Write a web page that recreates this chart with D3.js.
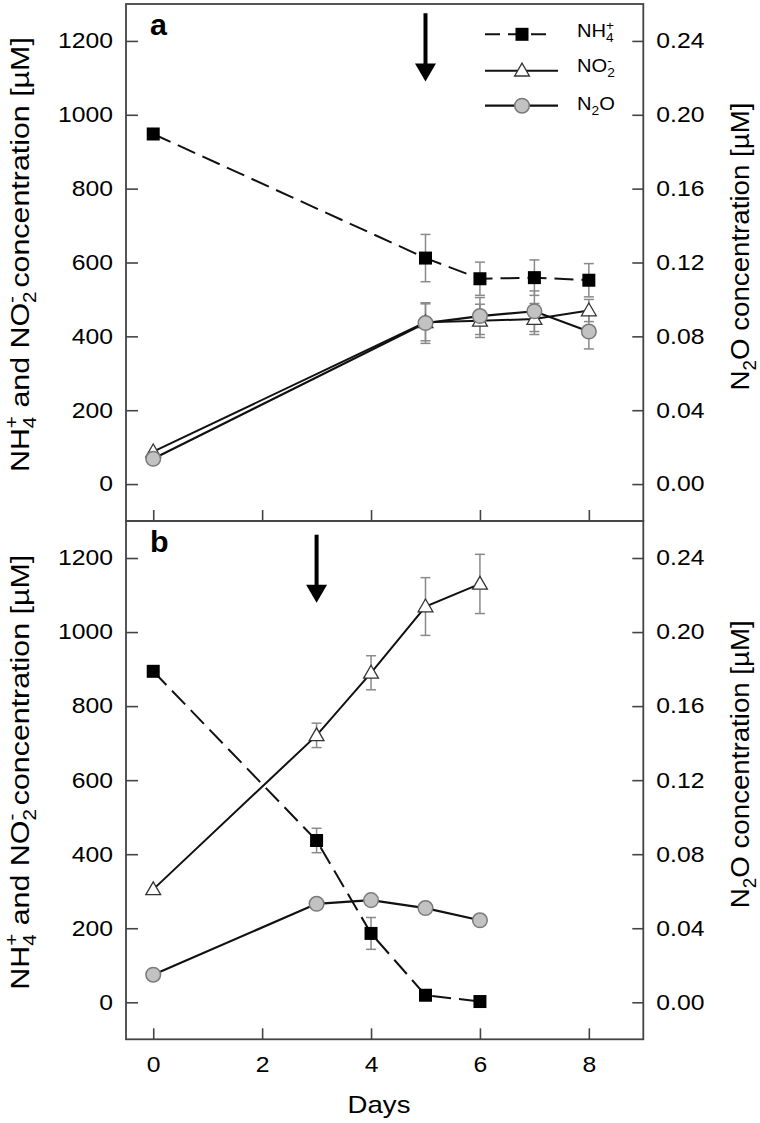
<!DOCTYPE html>
<html><head><meta charset="utf-8">
<script src="https://cdn.jsdelivr.net/npm/d3@7"></script>
<style>body{margin:0;background:#fff}svg{display:block}text{font-family:"Liberation Sans",Arial,sans-serif;fill:#000}</style>
</head><body>
<svg id="c" width="760" height="1123"></svg>
<script>
// ---------- data ----------
const daysA = [0, 5, 6, 7, 8];
const nh4A = [948, 612, 556, 559, 552];
const nh4AErr = [0, 64, 45, 48, 45];
const no2A = [88, 438, 442, 447, 470];
const no2AErr = [0, 50, 45, 42, 30];
const n2oA = [0.0137, 0.0872, 0.0910, 0.0936, 0.0826];
const n2oAErr = [0, 0.011, 0.010, 0.011, 0.0094];

const daysB = [0, 3, 4, 5, 6];
const nh4B = [894, 437, 186, 19, 2];
const nh4BErr = [0, 33, 43, 0, 0];
const no2B = [305, 721, 890, 1069, 1130];
const no2BErr = [0, 33, 46, 78, 80];
const n2oB = [0.0149, 0.0532, 0.0552, 0.0509, 0.0443];
const n2oBErr = [0, 0, 0, 0, 0];

const xTicks = [0, 2, 4, 6, 8];
const leftTicks = [0, 200, 400, 600, 800, 1000, 1200];
const rightTicks = [0, 0.04, 0.08, 0.12, 0.16, 0.20, 0.24];
const panelLabels = ["a", "b"];
const arrowDays = [5, 3];
const arrowTop = [1275, 1263];
const arrowBottom = [1090, 1079];
const legendNames = ["NH4+", "NO2-", "N2O"];

// ---------- layout ----------
const svg = d3.select("#c");
const L = 126, R = 643.3;
const panels = [{top: 4, bottom: 521}, {top: 521, bottom: 1039.3}];
const S = 1.15; // horizontal glyph stretch
const x = d3.scaleLinear().domain([-0.5, 9]).range([L, R]);

function rich(sel, parts, fs) {
  let cur = 0;
  parts.forEach(p => {
    const ts = sel.append("tspan").text(p.t);
    let target = 0, size = fs;
    if (p.k === "sub") { target = 0.28 * fs; size = 0.68 * fs; }
    if (p.k === "sup") { target = -0.42 * fs; size = 0.68 * fs; }
    ts.attr("font-size", size).attr("dy", target - cur);
    if (p.stack) ts.attr("dx", -0.556 * 0.68 * fs);
    cur = target;
  });
}
const partsNH4 = [{t: "NH"}, {t: "4", k: "sub"}, {t: "+", k: "sup", stack: true}];
const partsNO2 = [{t: "NO"}, {t: "2", k: "sub"}, {t: "-", k: "sup", stack: true}];
const partsN2O = [{t: "N"}, {t: "2", k: "sub"}, {t: "O"}];

function stretched(parent, px, py, s) {
  return parent.append("g").attr("transform", `translate(${px},${py}) scale(${s},1)`).append("text");
}

const datasets = [
  {days: daysA, nh4: nh4A, nh4E: nh4AErr, no2: no2A, no2E: no2AErr, n2o: n2oA, n2oE: n2oAErr},
  {days: daysB, nh4: nh4B, nh4E: nh4BErr, no2: no2B, no2E: no2BErr, n2o: n2oB, n2oE: n2oBErr}
];

panels.forEach((p, i) => {
  const y = d3.scaleLinear().domain([-100, 1300]).range([p.bottom, p.top]);
  const yR = d3.scaleLinear().domain([-0.02, 0.26]).range([p.bottom, p.top]);
  const g = svg.append("g");
  const D = datasets[i];

  // axes
  const ax = g.append("g").attr("transform", `translate(${L},0)`)
    .call(d3.axisLeft(y).tickValues(leftTicks).tickSize(-12).tickSizeOuter(0).tickPadding(13).tickFormat(d3.format("d")));
  const axR = g.append("g").attr("transform", `translate(${R},0)`)
    .call(d3.axisRight(yR).tickValues(rightTicks).tickSize(-11).tickSizeOuter(0).tickPadding(13).tickFormat(d3.format(".2f")));
  const axB = g.append("g").attr("transform", `translate(0,${p.bottom})`)
    .call(d3.axisBottom(x).tickValues(xTicks).tickSize(-11).tickSizeOuter(0).tickPadding(17).tickFormat(d3.format("d")));
  [ax, axR, axB].forEach(a => {
    a.select(".domain").remove();
    a.selectAll(".tick line").attr("stroke", "#444").attr("stroke-width", 1.6);
    a.selectAll(".tick text").attr("font-size", 21.5).attr("fill", "#000")
      .attr("font-family", '"Liberation Sans",Arial,sans-serif');
  });
  ax.selectAll(".tick text").each(function () {
    const t = d3.select(this); const xx = +t.attr("x");
    t.attr("x", xx / S).attr("transform", `scale(${S},1)`);
  });
  axR.selectAll(".tick text").each(function () {
    const t = d3.select(this); const xx = +t.attr("x");
    t.attr("x", xx / S).attr("transform", `scale(${S},1)`);
  });
  if (i === 0) axB.selectAll(".tick text").remove();
  else axB.selectAll(".tick text").attr("transform", `scale(${S},1)`);

  // frame
  g.append("rect").attr("x", L).attr("y", p.top).attr("width", R - L).attr("height", p.bottom - p.top)
    .attr("fill", "none").attr("stroke", "#444").attr("stroke-width", 1.8);

  // lines
  const lineL = d3.line().x((d, j) => x(D.days[j])).y(d => y(d));
  const lineR = d3.line().x((d, j) => x(D.days[j])).y(d => yR(d));
  g.append("path").attr("d", lineL(D.no2)).attr("fill", "none").attr("stroke", "#111").attr("stroke-width", 2);
  g.append("path").attr("d", lineR(D.n2o)).attr("fill", "none").attr("stroke", "#111").attr("stroke-width", 2.2);
  g.append("path").attr("d", lineL(D.nh4)).attr("fill", "none").attr("stroke", "#111").attr("stroke-width", 2)
    .attr("stroke-dasharray", "19,8");

  // error bars
  function errs(vals, es, sc) {
    vals.forEach((v, j) => {
      const e = es[j]; if (!e) return;
      const cx = x(D.days[j]), y1 = sc(v - e), y2 = sc(v + e);
      const eg = g.append("g").attr("stroke", "#8a8a8a").attr("stroke-width", 1.5);
      eg.append("line").attr("x1", cx).attr("x2", cx).attr("y1", y1).attr("y2", y2);
      eg.append("line").attr("x1", cx - 5).attr("x2", cx + 5).attr("y1", y1).attr("y2", y1);
      eg.append("line").attr("x1", cx - 5).attr("x2", cx + 5).attr("y1", y2).attr("y2", y2);
    });
  }
  errs(D.no2, D.no2E, y);
  errs(D.n2o, D.n2oE, yR);
  errs(D.nh4, D.nh4E, y);

  // markers
  const tri = d3.symbol().type(d3.symbolTriangle).size(95);
  g.selectAll(null).data(D.no2).join("path")
    .attr("d", tri).attr("transform", (d, j) => `translate(${x(D.days[j])},${y(d) + 1})`)
    .attr("fill", "#fff").attr("stroke", "#333").attr("stroke-width", 1.3);
  g.selectAll(null).data(D.n2o).join("circle")
    .attr("cx", (d, j) => x(D.days[j])).attr("cy", d => yR(d)).attr("r", 7.3)
    .attr("fill", "#c2c2c2").attr("stroke", "#7a7a7a").attr("stroke-width", 1.5);
  g.selectAll(null).data(D.nh4).join("rect")
    .attr("x", (d, j) => x(D.days[j]) - 6.5).attr("y", d => y(d) - 6.5).attr("width", 13).attr("height", 13)
    .attr("fill", "#000");

  // arrow
  const axp = x(arrowDays[i]), yt = y(arrowTop[i]), yb = y(arrowBottom[i]);
  g.append("line").attr("x1", axp).attr("x2", axp).attr("y1", yt).attr("y2", yb - 16)
    .attr("stroke", "#000").attr("stroke-width", 4);
  g.append("path").attr("d", `M${axp - 10.5},${yb - 18}L${axp + 10.5},${yb - 18}L${axp},${yb}Z`).attr("fill", "#000");

  // panel label
  stretched(g, 150, p.top + 31, 1.05).attr("font-size", 29).attr("font-weight", "bold").text(panelLabels[i]);

  // axis titles
  function title(px, py, parts, fs, target) {
    const gg = g.append("g").attr("transform", `translate(${px},${py}) rotate(-90)`);
    const t = gg.append("text").attr("font-size", fs);
    rich(t, parts, fs);
    const w = t.node().getBBox().width;
    const s = target / w;
    t.attr("transform", `scale(${s},1) translate(${-w / 2},0)`);
  }
  const mid = (p.top + p.bottom) / 2;
  title(29, mid - 8, [...partsNH4, {t: " and "}, ...partsNO2, {t: " concentration [µM]"}], 26, 435);
  title(749, mid - 16, [...partsN2O, {t: " concentration [µM]"}], 26, 288);

  // legend (panel a only)
  if (i === 0) {
    const rows = [34.3, 70.7, 105.7];
    const lg = g.append("g");
    lg.append("line").attr("x1", 485).attr("x2", 552).attr("y1", rows[0]).attr("y2", rows[0])
      .attr("stroke", "#111").attr("stroke-width", 2).attr("stroke-dasharray", "15,8");
    lg.append("rect").attr("x", 522 - 6.5).attr("y", rows[0] - 6.5).attr("width", 13).attr("height", 13).attr("fill", "#000");
    lg.append("line").attr("x1", 485).attr("x2", 558).attr("y1", rows[1]).attr("y2", rows[1])
      .attr("stroke", "#111").attr("stroke-width", 2);
    lg.append("path").attr("d", tri).attr("transform", `translate(522,${rows[1] + 1})`)
      .attr("fill", "#fff").attr("stroke", "#333").attr("stroke-width", 1.3);
    lg.append("line").attr("x1", 485).attr("x2", 558).attr("y1", rows[2]).attr("y2", rows[2])
      .attr("stroke", "#111").attr("stroke-width", 2.2);
    lg.append("circle").attr("cx", 522).attr("cy", rows[2]).attr("r", 7.3)
      .attr("fill", "#c2c2c2").attr("stroke", "#7a7a7a").attr("stroke-width", 1.5);
    const partsList = [partsNH4, partsNO2, partsN2O];
    const bases = [37, 72, 110];
    partsList.forEach((pp, k) => {
      const t = stretched(lg, 577, bases[k], S).attr("font-size", 17.5);
      rich(t, pp, 17.5);
      t.append("title").text(legendNames[k]);
    });
  }
});

// x title
stretched(svg, 379, 1113, S).attr("font-size", 24).attr("text-anchor", "middle").text("Days");
</script>
</body></html>
